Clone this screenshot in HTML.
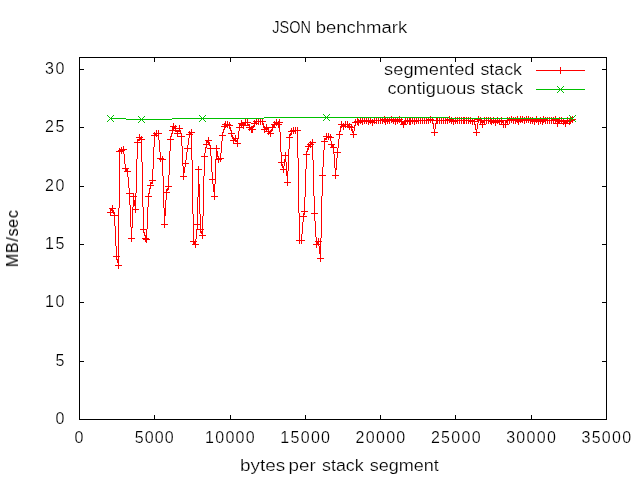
<!DOCTYPE html><html><head><meta charset="utf-8"><style>html,body{margin:0;padding:0;background:#fff;}svg{display:block}g.tg{will-change:transform}text{font-family:"Liberation Sans",sans-serif;fill:#000;stroke:#fff;stroke-width:0.2px}.yl text{stroke-width:0}</style></head><body>
<svg width="640" height="480" viewBox="0 0 640 480">
<rect width="640" height="480" fill="#fff"/>
<path d="M79.5,57.5H606.5V419.5H79.5ZM80,419.5h4M606,419.5h-4M80,361.5h4M606,361.5h-4M80,302.5h4M606,302.5h-4M80,244.5h4M606,244.5h-4M80,186.5h4M606,186.5h-4M80,127.5h4M606,127.5h-4M80,69.5h4M606,69.5h-4M79.5,419v-4M79.5,58v4M154.5,419v-4M154.5,58v4M230.5,419v-4M230.5,58v4M305.5,419v-4M305.5,58v4M380.5,419v-4M380.5,58v4M455.5,419v-4M455.5,58v4M531.5,419v-4M531.5,58v4M606.5,419v-4M606.5,58v4" stroke="#000" stroke-width="1" fill="none" shape-rendering="crispEdges"/>
<g class="tg">
<text class="t" x="64.50" y="424.00" font-size="16" text-anchor="end" textLength="9.80" lengthAdjust="spacing">0</text>
<text class="t" x="64.50" y="365.67" font-size="16" text-anchor="end" textLength="9.80" lengthAdjust="spacing">5</text>
<text class="t" x="64.50" y="307.33" font-size="16" text-anchor="end" textLength="19.59" lengthAdjust="spacing">10</text>
<text class="t" x="64.50" y="249.00" font-size="16" text-anchor="end" textLength="19.59" lengthAdjust="spacing">15</text>
<text class="t" x="64.50" y="190.67" font-size="16" text-anchor="end" textLength="19.59" lengthAdjust="spacing">20</text>
<text class="t" x="64.50" y="132.33" font-size="16" text-anchor="end" textLength="19.59" lengthAdjust="spacing">25</text>
<text class="t" x="64.50" y="74.00" font-size="16" text-anchor="end" textLength="19.59" lengthAdjust="spacing">30</text>
<text class="t" x="79.00" y="443.00" font-size="16" text-anchor="middle" textLength="9.74" lengthAdjust="spacing">0</text>
<text class="t" x="154.29" y="443.00" font-size="16" text-anchor="middle" textLength="38.97" lengthAdjust="spacing">5000</text>
<text class="t" x="229.87" y="443.00" font-size="16" text-anchor="middle" textLength="49.65" lengthAdjust="spacing">10000</text>
<text class="t" x="305.16" y="443.00" font-size="16" text-anchor="middle" textLength="49.65" lengthAdjust="spacing">15000</text>
<text class="t" x="380.44" y="443.00" font-size="16" text-anchor="middle" textLength="49.65" lengthAdjust="spacing">20000</text>
<text class="t" x="455.73" y="443.00" font-size="16" text-anchor="middle" textLength="49.65" lengthAdjust="spacing">25000</text>
<text class="t" x="531.01" y="443.00" font-size="16" text-anchor="middle" textLength="49.65" lengthAdjust="spacing">30000</text>
<text class="t" x="606.30" y="443.00" font-size="16" text-anchor="middle" textLength="49.65" lengthAdjust="spacing">35000</text>
<text x="272.25" y="33" font-size="16" textLength="38.67" lengthAdjust="spacingAndGlyphs">JSON</text>
<text x="315.70" y="33" font-size="16" textLength="91.56" lengthAdjust="spacingAndGlyphs">benchmark</text>
<text x="240.10" y="471" font-size="16" textLength="45.25" lengthAdjust="spacingAndGlyphs">bytes</text>
<text x="288.60" y="471" font-size="16" textLength="27.12" lengthAdjust="spacingAndGlyphs">per</text>
<text x="322.00" y="471" font-size="16" textLength="41.74" lengthAdjust="spacingAndGlyphs">stack</text>
<text x="369.70" y="471" font-size="16" textLength="69.18" lengthAdjust="spacingAndGlyphs">segment</text>
<text x="384.10" y="75" font-size="16" textLength="90.37" lengthAdjust="spacingAndGlyphs">segmented</text>
<text x="480.40" y="75" font-size="16" textLength="41.54" lengthAdjust="spacingAndGlyphs">stack</text>
<text x="387.40" y="94" font-size="16" textLength="87.99" lengthAdjust="spacingAndGlyphs">contiguous</text>
<text x="480.40" y="94" font-size="16" textLength="42.74" lengthAdjust="spacingAndGlyphs">stack</text>
<g transform="translate(18,238.6) rotate(-90)" class="yl"><text class="t" x="0.00" y="0.00" font-size="16" text-anchor="middle" textLength="56.92" lengthAdjust="spacing">MB/sec</text></g>
</g>
<path d="M384,116.5h1M391,116.5h1M399,116.5h1M430,116.5h1M449,116.5h1M478,116.5h1M511,116.5h1M517,116.5h1M520,116.5h1M522,116.5h1M526,116.5h1M528,116.5h1M536,116.5h1M543,116.5h1M555,116.5h1M572,116.5h1M360,117.5h1M364,117.5h1M366,117.5h1M370,117.5h1M374,117.5h1M376,117.5h1M378,117.5h1M380,117.5h1M382,117.5h1M384,117.5h1M387,117.5h1M389,117.5h1M391,117.5h1M393,117.5h1M397,117.5h1M399,117.5h1M407,117.5h1M412,117.5h1M416,117.5h1M418,117.5h1M420,117.5h1M422,117.5h1M424,117.5h1M426,117.5h1M428,117.5h1M430,117.5h1M432,117.5h1M436,117.5h2M439,117.5h1M441,117.5h1M443,117.5h1M445,117.5h1M447,117.5h1M449,117.5h1M451,117.5h1M455,117.5h1M457,117.5h1M459,117.5h1M461,117.5h1M463,117.5h2M466,117.5h1M468,117.5h1M470,117.5h1M478,117.5h1M480,117.5h1M484,117.5h1M486,117.5h1M488,117.5h1M490,117.5h1M493,117.5h1M497,117.5h1M501,117.5h1M507,117.5h1M509,117.5h1M511,117.5h1M513,117.5h1M515,117.5h1M517,117.5h1M520,117.5h1M522,117.5h1M524,117.5h1M526,117.5h1M528,117.5h1M530,117.5h1M532,117.5h1M536,117.5h1M540,117.5h1M543,117.5h1M545,117.5h1M547,117.5h1M549,117.5h1M551,117.5h1M553,117.5h1M555,117.5h1M559,117.5h1M561,117.5h1M567,117.5h1M570,117.5h1M572,117.5h1M256,118.5h1M258,118.5h1M260,118.5h1M262,118.5h1M357,118.5h1M360,118.5h1M362,118.5h1M364,118.5h1M366,118.5h1M368,118.5h1M370,118.5h1M374,118.5h1M376,118.5h1M378,118.5h1M380,118.5h1M382,118.5h1M384,118.5h2M387,118.5h1M389,118.5h1M391,118.5h1M393,118.5h1M395,118.5h1M397,118.5h1M399,118.5h1M401,118.5h1M405,118.5h1M407,118.5h1M409,118.5h2M412,118.5h1M414,118.5h1M416,118.5h1M418,118.5h1M420,118.5h1M422,118.5h1M424,118.5h1M426,118.5h1M428,118.5h1M430,118.5h1M432,118.5h1M436,118.5h2M439,118.5h1M441,118.5h1M443,118.5h1M445,118.5h1M447,118.5h1M449,118.5h1M451,118.5h1M453,118.5h1M455,118.5h1M457,118.5h1M459,118.5h1M461,118.5h1M463,118.5h2M466,118.5h1M468,118.5h1M470,118.5h1M472,118.5h1M474,118.5h1M478,118.5h1M480,118.5h1M484,118.5h1M486,118.5h1M488,118.5h1M490,118.5h2M493,118.5h1M497,118.5h1M499,118.5h1M501,118.5h1M507,118.5h1M509,118.5h1M511,118.5h1M513,118.5h1M515,118.5h1M517,118.5h2M520,118.5h1M522,118.5h1M524,118.5h1M526,118.5h1M528,118.5h1M530,118.5h1M532,118.5h1M534,118.5h1M536,118.5h1M538,118.5h1M540,118.5h1M542,118.5h2M545,118.5h1M547,118.5h1M549,118.5h1M551,118.5h1M553,118.5h1M555,118.5h1M559,118.5h1M561,118.5h1M563,118.5h1M567,118.5h1M569,118.5h2M572,118.5h1M245,119.5h1M247,119.5h1M256,119.5h1M258,119.5h1M260,119.5h1M262,119.5h1M276,119.5h1M279,119.5h1M355,119.5h1M357,119.5h2M360,119.5h1M362,119.5h1M364,119.5h1M366,119.5h1M368,119.5h1M370,119.5h1M372,119.5h1M374,119.5h1M376,119.5h1M378,119.5h1M380,119.5h23M405,119.5h1M407,119.5h1M409,119.5h2M412,119.5h1M414,119.5h1M416,119.5h1M418,119.5h1M420,119.5h1M422,119.5h1M424,119.5h1M426,119.5h8M436,119.5h2M439,119.5h1M441,119.5h1M443,119.5h1M445,119.5h9M455,119.5h1M457,119.5h1M459,119.5h1M461,119.5h1M463,119.5h2M466,119.5h1M468,119.5h1M470,119.5h1M472,119.5h1M474,119.5h8M484,119.5h1M486,119.5h1M488,119.5h1M490,119.5h2M493,119.5h1M495,119.5h1M497,119.5h1M499,119.5h1M501,119.5h1M507,119.5h41M549,119.5h1M551,119.5h9M561,119.5h1M563,119.5h1M567,119.5h1M569,119.5h7M241,120.5h1M245,120.5h1M247,120.5h1M254,120.5h1M256,120.5h1M258,120.5h1M260,120.5h1M262,120.5h1M276,120.5h1M279,120.5h1M355,120.5h1M357,120.5h45M404,120.5h71M477,120.5h97M225,121.5h1M227,121.5h1M241,121.5h1M245,121.5h1M247,121.5h1M253,121.5h13M274,121.5h1M276,121.5h1M278,121.5h2M341,121.5h1M345,121.5h1M347,121.5h1M354,121.5h21M376,121.5h1M378,121.5h1M380,121.5h1M382,121.5h8M391,121.5h28M420,121.5h1M422,121.5h1M424,121.5h1M426,121.5h1M428,121.5h1M430,121.5h1M432,121.5h1M436,121.5h2M439,121.5h1M441,121.5h1M443,121.5h1M445,121.5h1M447,121.5h1M449,121.5h9M459,121.5h1M461,121.5h1M463,121.5h2M466,121.5h1M468,121.5h11M480,121.5h5M486,121.5h1M488,121.5h16M505,121.5h3M509,121.5h1M511,121.5h1M513,121.5h1M515,121.5h8M524,121.5h1M526,121.5h1M528,121.5h1M530,121.5h16M547,121.5h1M549,121.5h1M551,121.5h1M553,121.5h1M555,121.5h18M225,122.5h1M227,122.5h1M229,122.5h1M241,122.5h10M254,122.5h3M258,122.5h1M260,122.5h1M262,122.5h1M273,122.5h10M341,122.5h1M345,122.5h1M347,122.5h1M352,122.5h11M364,122.5h1M366,122.5h1M368,122.5h9M378,122.5h1M380,122.5h1M382,122.5h1M384,122.5h2M387,122.5h1M389,122.5h1M391,122.5h1M393,122.5h1M395,122.5h1M397,122.5h1M399,122.5h1M401,122.5h5M407,122.5h1M409,122.5h2M412,122.5h1M414,122.5h1M416,122.5h1M418,122.5h1M420,122.5h1M422,122.5h1M424,122.5h1M426,122.5h1M428,122.5h1M430,122.5h1M432,122.5h1M436,122.5h2M439,122.5h1M441,122.5h1M443,122.5h1M445,122.5h1M447,122.5h1M449,122.5h1M451,122.5h1M453,122.5h1M455,122.5h1M457,122.5h1M459,122.5h1M461,122.5h1M463,122.5h2M466,122.5h1M468,122.5h1M470,122.5h1M472,122.5h1M474,122.5h1M478,122.5h1M480,122.5h5M486,122.5h1M488,122.5h1M490,122.5h10M501,122.5h3M505,122.5h3M509,122.5h1M511,122.5h1M513,122.5h1M515,122.5h1M517,122.5h2M520,122.5h1M522,122.5h1M524,122.5h1M526,122.5h1M528,122.5h1M530,122.5h1M532,122.5h1M534,122.5h1M536,122.5h1M538,122.5h1M540,122.5h1M542,122.5h2M545,122.5h1M547,122.5h1M549,122.5h1M551,122.5h1M553,122.5h1M555,122.5h1M557,122.5h3M561,122.5h1M563,122.5h5M569,122.5h2M572,122.5h1M173,123.5h1M224,123.5h2M227,123.5h1M229,123.5h1M238,123.5h8M247,123.5h1M251,123.5h8M260,123.5h1M262,123.5h2M274,123.5h6M341,123.5h1M343,123.5h1M345,123.5h1M347,123.5h1M349,123.5h1M355,123.5h1M357,123.5h2M360,123.5h1M362,123.5h1M364,123.5h1M366,123.5h1M368,123.5h1M370,123.5h1M372,123.5h1M374,123.5h1M376,123.5h1M378,123.5h1M380,123.5h1M382,123.5h1M385,123.5h1M387,123.5h1M389,123.5h1M393,123.5h1M395,123.5h1M397,123.5h1M401,123.5h5M407,123.5h1M409,123.5h2M412,123.5h1M414,123.5h1M416,123.5h1M418,123.5h1M420,123.5h1M422,123.5h1M424,123.5h1M426,123.5h1M428,123.5h1M432,123.5h2M435,123.5h3M439,123.5h1M441,123.5h1M443,123.5h1M445,123.5h1M447,123.5h1M451,123.5h1M453,123.5h1M455,123.5h1M457,123.5h1M459,123.5h1M461,123.5h1M463,123.5h2M466,123.5h1M468,123.5h1M470,123.5h1M472,123.5h1M474,123.5h1M477,123.5h1M480,123.5h1M482,123.5h1M484,123.5h1M486,123.5h1M488,123.5h1M490,123.5h2M493,123.5h1M495,123.5h1M497,123.5h1M499,123.5h1M501,123.5h1M503,123.5h1M505,123.5h1M507,123.5h1M509,123.5h1M513,123.5h1M515,123.5h1M518,123.5h1M524,123.5h1M530,123.5h1M532,123.5h1M534,123.5h1M538,123.5h1M540,123.5h1M542,123.5h1M545,123.5h1M547,123.5h1M549,123.5h1M551,123.5h1M553,123.5h18M173,124.5h1M222,124.5h9M239,124.5h7M247,124.5h3M254,124.5h1M256,124.5h1M258,124.5h1M260,124.5h1M262,124.5h2M266,124.5h1M271,124.5h11M338,124.5h14M355,124.5h1M357,124.5h2M362,124.5h1M368,124.5h1M372,124.5h1M385,124.5h1M395,124.5h1M400,124.5h7M409,124.5h2M414,124.5h1M433,124.5h1M435,124.5h1M453,124.5h1M472,124.5h1M474,124.5h2M477,124.5h1M479,124.5h7M491,124.5h1M495,124.5h1M499,124.5h10M518,124.5h1M534,124.5h1M538,124.5h1M542,124.5h1M557,124.5h1M563,124.5h1M565,124.5h1M569,124.5h1M173,125.5h1M175,125.5h1M179,125.5h1M224,125.5h9M239,125.5h11M253,125.5h2M263,125.5h1M266,125.5h1M272,125.5h3M276,125.5h1M278,125.5h2M341,125.5h5M347,125.5h3M351,125.5h1M354,125.5h2M358,125.5h1M372,125.5h1M403,125.5h1M433,125.5h1M435,125.5h1M475,125.5h1M477,125.5h1M482,125.5h1M495,125.5h1M503,125.5h1M505,125.5h1M557,125.5h1M565,125.5h1M170,126.5h7M179,126.5h1M221,126.5h7M229,126.5h1M239,126.5h1M241,126.5h1M243,126.5h1M249,126.5h1M251,126.5h4M263,126.5h2M266,126.5h1M272,126.5h3M278,126.5h2M340,126.5h13M354,126.5h1M403,126.5h1M433,126.5h1M435,126.5h1M475,126.5h1M477,126.5h1M482,126.5h1M503,126.5h1M505,126.5h1M557,126.5h1M565,126.5h1M172,127.5h4M179,127.5h1M224,127.5h2M227,127.5h1M229,127.5h2M236,127.5h8M246,127.5h8M263,127.5h13M278,127.5h2M293,127.5h1M295,127.5h1M297,127.5h1M340,127.5h2M343,127.5h1M345,127.5h1M347,127.5h8M403,127.5h1M433,127.5h1M435,127.5h1M475,127.5h1M477,127.5h1M482,127.5h1M503,127.5h1M505,127.5h1M172,128.5h11M224,128.5h1M229,128.5h2M239,128.5h1M243,128.5h1M249,128.5h4M264,128.5h5M272,128.5h1M279,128.5h1M291,128.5h1M293,128.5h1M295,128.5h1M297,128.5h1M340,128.5h1M343,128.5h1M349,128.5h1M351,128.5h1M354,128.5h1M433,128.5h1M435,128.5h1M475,128.5h1M477,128.5h1M172,129.5h2M175,129.5h1M179,129.5h1M191,129.5h1M223,129.5h2M230,129.5h1M239,129.5h1M248,129.5h8M261,129.5h8M271,129.5h2M279,129.5h1M291,129.5h1M293,129.5h1M295,129.5h1M297,129.5h1M340,129.5h1M343,129.5h1M349,129.5h1M351,129.5h2M354,129.5h1M434,129.5h1M475,129.5h2M156,130.5h1M158,130.5h1M169,130.5h12M191,130.5h1M223,130.5h1M230,130.5h2M239,130.5h1M249,130.5h1M251,130.5h2M264,130.5h1M266,130.5h1M268,130.5h1M270,130.5h3M279,130.5h1M290,130.5h11M340,130.5h1M351,130.5h2M354,130.5h1M434,130.5h1M476,130.5h1M156,131.5h1M158,131.5h1M172,131.5h1M175,131.5h6M189,131.5h1M191,131.5h1M223,131.5h1M231,131.5h1M238,131.5h1M251,131.5h2M264,131.5h8M279,131.5h1M288,131.5h8M297,131.5h1M339,131.5h2M352,131.5h2M434,131.5h1M476,131.5h1M154,132.5h1M156,132.5h1M158,132.5h1M172,132.5h1M177,132.5h1M180,132.5h1M188,132.5h7M222,132.5h2M231,132.5h1M238,132.5h1M251,132.5h2M264,132.5h1M268,132.5h3M280,132.5h1M291,132.5h1M293,132.5h1M295,132.5h1M297,132.5h1M339,132.5h1M352,132.5h2M431,132.5h7M473,132.5h7M153,133.5h9M171,133.5h2M174,133.5h8M189,133.5h3M222,133.5h1M228,133.5h7M238,133.5h1M267,133.5h7M280,133.5h1M290,133.5h2M293,133.5h1M295,133.5h1M297,133.5h1M326,133.5h1M328,133.5h1M339,133.5h1M353,133.5h1M434,133.5h1M476,133.5h1M139,134.5h1M154,134.5h3M158,134.5h1M171,134.5h1M177,134.5h1M181,134.5h1M186,134.5h7M222,134.5h1M231,134.5h1M238,134.5h1M268,134.5h1M270,134.5h1M280,134.5h1M289,134.5h3M297,134.5h1M326,134.5h1M328,134.5h1M330,134.5h1M336,134.5h7M350,134.5h7M434,134.5h1M476,134.5h1M139,135.5h1M151,135.5h8M171,135.5h1M177,135.5h1M181,135.5h1M189,135.5h1M191,135.5h1M219,135.5h7M231,135.5h2M235,135.5h1M238,135.5h1M270,135.5h1M280,135.5h1M289,135.5h2M297,135.5h1M326,135.5h1M328,135.5h1M330,135.5h1M339,135.5h1M353,135.5h1M434,135.5h1M476,135.5h1M139,136.5h1M141,136.5h1M154,136.5h1M156,136.5h1M158,136.5h1M170,136.5h2M177,136.5h8M189,136.5h1M191,136.5h1M222,136.5h1M231,136.5h2M235,136.5h1M238,136.5h1M270,136.5h1M280,136.5h1M289,136.5h1M297,136.5h1M323,136.5h9M339,136.5h1M353,136.5h1M136,137.5h7M154,137.5h1M158,137.5h1M170,137.5h1M181,137.5h1M189,137.5h1M191,137.5h1M208,137.5h1M222,137.5h1M232,137.5h2M235,137.5h1M238,137.5h1M280,137.5h1M286,137.5h7M297,137.5h1M326,137.5h8M339,137.5h1M353,137.5h1M139,138.5h3M154,138.5h1M158,138.5h1M170,138.5h1M181,138.5h1M188,138.5h1M191,138.5h1M208,138.5h1M222,138.5h1M232,138.5h7M280,138.5h1M289,138.5h1M297,138.5h1M324,138.5h3M328,138.5h1M330,138.5h1M339,138.5h1M137,139.5h8M154,139.5h1M158,139.5h1M167,139.5h7M181,139.5h1M188,139.5h1M191,139.5h1M208,139.5h1M222,139.5h1M233,139.5h3M237,139.5h1M280,139.5h1M289,139.5h1M297,139.5h1M312,139.5h1M324,139.5h3M328,139.5h1M330,139.5h1M338,139.5h1M137,140.5h3M141,140.5h1M154,140.5h1M159,140.5h1M170,140.5h1M181,140.5h1M188,140.5h1M191,140.5h1M205,140.5h7M222,140.5h1M230,140.5h8M280,140.5h1M289,140.5h1M297,140.5h1M312,140.5h1M324,140.5h1M330,140.5h1M338,140.5h1M137,141.5h1M141,141.5h1M154,141.5h1M159,141.5h1M170,141.5h1M181,141.5h1M188,141.5h1M191,141.5h1M206,141.5h3M221,141.5h1M233,141.5h1M235,141.5h3M280,141.5h1M289,141.5h1M297,141.5h1M310,141.5h1M312,141.5h1M321,141.5h7M331,141.5h1M338,141.5h1M134,142.5h8M154,142.5h1M159,142.5h1M170,142.5h1M181,142.5h1M188,142.5h1M191,142.5h1M206,142.5h4M221,142.5h1M233,142.5h1M237,142.5h1M280,142.5h1M289,142.5h1M297,142.5h1M309,142.5h7M324,142.5h1M331,142.5h1M338,142.5h1M137,143.5h1M141,143.5h1M154,143.5h1M159,143.5h1M170,143.5h1M181,143.5h1M188,143.5h1M191,143.5h1M206,143.5h1M208,143.5h2M221,143.5h1M233,143.5h8M280,143.5h1M289,143.5h1M297,143.5h1M308,143.5h1M310,143.5h3M324,143.5h1M331,143.5h1M338,143.5h1M137,144.5h1M141,144.5h1M154,144.5h1M159,144.5h1M170,144.5h1M181,144.5h1M188,144.5h1M191,144.5h1M203,144.5h7M221,144.5h1M237,144.5h1M280,144.5h1M289,144.5h1M297,144.5h1M307,144.5h7M324,144.5h1M328,144.5h7M338,144.5h1M137,145.5h1M141,145.5h1M154,145.5h1M159,145.5h1M170,145.5h1M181,145.5h1M187,145.5h1M191,145.5h1M206,145.5h1M209,145.5h2M216,145.5h1M221,145.5h1M237,145.5h1M280,145.5h1M289,145.5h1M297,145.5h1M308,145.5h3M312,145.5h1M324,145.5h1M331,145.5h3M338,145.5h1M123,146.5h1M137,146.5h1M141,146.5h1M154,146.5h1M159,146.5h1M170,146.5h1M182,146.5h1M187,146.5h1M191,146.5h1M206,146.5h1M210,146.5h1M216,146.5h1M221,146.5h1M237,146.5h1M280,146.5h1M289,146.5h1M297,146.5h1M305,146.5h8M324,146.5h1M331,146.5h3M338,146.5h1M121,147.5h1M123,147.5h1M137,147.5h1M141,147.5h1M153,147.5h1M159,147.5h1M170,147.5h1M182,147.5h1M187,147.5h1M191,147.5h1M205,147.5h2M210,147.5h1M216,147.5h1M221,147.5h1M280,147.5h1M289,147.5h1M297,147.5h1M308,147.5h1M310,147.5h1M312,147.5h1M324,147.5h1M330,147.5h7M338,147.5h1M119,148.5h1M121,148.5h1M123,148.5h1M137,148.5h1M141,148.5h1M153,148.5h1M159,148.5h1M170,148.5h1M182,148.5h1M184,148.5h8M205,148.5h1M207,148.5h13M221,148.5h1M280,148.5h1M289,148.5h1M297,148.5h1M307,148.5h2M312,148.5h1M324,148.5h1M333,148.5h1M337,148.5h1M119,149.5h8M137,149.5h1M141,149.5h1M153,149.5h1M159,149.5h1M170,149.5h1M182,149.5h1M187,149.5h1M191,149.5h1M205,149.5h1M210,149.5h1M216,149.5h1M221,149.5h1M280,149.5h1M288,149.5h1M297,149.5h1M307,149.5h2M312,149.5h1M324,149.5h1M333,149.5h1M337,149.5h1M118,150.5h7M137,150.5h1M141,150.5h1M153,150.5h1M159,150.5h1M170,150.5h1M182,150.5h1M187,150.5h1M191,150.5h1M205,150.5h1M210,150.5h1M216,150.5h1M221,150.5h1M280,150.5h1M288,150.5h1M297,150.5h1M307,150.5h1M312,150.5h1M323,150.5h1M333,150.5h1M337,150.5h1M116,151.5h8M137,151.5h1M141,151.5h1M153,151.5h1M159,151.5h1M169,151.5h1M182,151.5h1M187,151.5h1M191,151.5h1M205,151.5h1M210,151.5h1M216,151.5h2M221,151.5h1M280,151.5h1M288,151.5h1M297,151.5h1M306,151.5h2M312,151.5h1M323,151.5h1M333,151.5h1M337,151.5h1M119,152.5h1M121,152.5h1M123,152.5h1M137,152.5h1M141,152.5h1M153,152.5h1M160,152.5h1M169,152.5h1M182,152.5h1M186,152.5h1M191,152.5h1M205,152.5h1M210,152.5h1M216,152.5h2M221,152.5h1M281,152.5h1M285,152.5h1M288,152.5h1M297,152.5h1M306,152.5h1M312,152.5h1M323,152.5h1M333,152.5h8M119,153.5h1M121,153.5h1M123,153.5h1M137,153.5h1M141,153.5h1M153,153.5h1M160,153.5h1M169,153.5h1M182,153.5h1M186,153.5h1M191,153.5h1M204,153.5h1M210,153.5h1M216,153.5h2M220,153.5h1M281,153.5h1M285,153.5h1M288,153.5h1M297,153.5h1M306,153.5h1M312,153.5h1M323,153.5h1M333,153.5h1M337,153.5h1M119,154.5h1M124,154.5h1M137,154.5h1M141,154.5h1M153,154.5h1M160,154.5h1M169,154.5h1M182,154.5h1M186,154.5h1M191,154.5h1M204,154.5h1M210,154.5h1M216,154.5h2M220,154.5h1M281,154.5h1M285,154.5h1M288,154.5h1M297,154.5h1M303,154.5h7M312,154.5h1M323,154.5h1M334,154.5h1M337,154.5h1M119,155.5h1M124,155.5h1M137,155.5h1M141,155.5h1M153,155.5h1M160,155.5h1M169,155.5h1M182,155.5h1M186,155.5h1M191,155.5h1M204,155.5h1M210,155.5h1M216,155.5h2M220,155.5h1M281,155.5h8M297,155.5h1M306,155.5h1M312,155.5h1M323,155.5h1M334,155.5h1M337,155.5h1M119,156.5h1M124,156.5h1M137,156.5h1M141,156.5h1M153,156.5h1M160,156.5h1M162,156.5h1M169,156.5h1M182,156.5h1M186,156.5h1M191,156.5h1M201,156.5h7M211,156.5h1M216,156.5h3M220,156.5h1M281,156.5h1M285,156.5h1M288,156.5h1M297,156.5h1M306,156.5h1M312,156.5h1M323,156.5h1M334,156.5h1M337,156.5h1M119,157.5h1M124,157.5h1M137,157.5h1M141,157.5h1M153,157.5h1M160,157.5h1M162,157.5h1M169,157.5h1M182,157.5h1M186,157.5h1M191,157.5h1M204,157.5h1M211,157.5h1M216,157.5h1M218,157.5h1M220,157.5h1M281,157.5h1M285,157.5h1M288,157.5h1M297,157.5h1M306,157.5h1M312,157.5h1M323,157.5h1M334,157.5h1M337,157.5h1M119,158.5h1M124,158.5h1M137,158.5h1M141,158.5h1M153,158.5h1M157,158.5h7M169,158.5h1M182,158.5h1M186,158.5h1M191,158.5h1M204,158.5h1M211,158.5h1M216,158.5h8M281,158.5h1M285,158.5h1M288,158.5h1M298,158.5h1M306,158.5h1M312,158.5h1M323,158.5h1M334,158.5h1M336,158.5h1M119,159.5h1M124,159.5h1M136,159.5h1M141,159.5h1M153,159.5h1M159,159.5h7M169,159.5h1M182,159.5h1M186,159.5h1M191,159.5h1M204,159.5h1M211,159.5h1M215,159.5h7M281,159.5h1M284,159.5h2M288,159.5h1M298,159.5h1M306,159.5h1M312,159.5h1M323,159.5h1M334,159.5h1M336,159.5h1M119,160.5h1M124,160.5h1M136,160.5h1M141,160.5h1M153,160.5h1M160,160.5h1M162,160.5h1M169,160.5h1M182,160.5h1M185,160.5h1M192,160.5h1M204,160.5h1M211,160.5h1M215,160.5h1M218,160.5h1M220,160.5h1M281,160.5h1M284,160.5h2M288,160.5h1M298,160.5h1M306,160.5h1M313,160.5h1M323,160.5h1M334,160.5h1M336,160.5h1M119,161.5h1M124,161.5h1M136,161.5h1M141,161.5h1M153,161.5h1M160,161.5h1M162,161.5h1M169,161.5h1M182,161.5h1M185,161.5h1M192,161.5h1M204,161.5h1M211,161.5h1M215,161.5h1M218,161.5h1M220,161.5h1M281,161.5h1M284,161.5h2M288,161.5h1M298,161.5h1M306,161.5h1M313,161.5h1M323,161.5h1M334,161.5h1M336,161.5h1M119,162.5h1M124,162.5h1M136,162.5h1M142,162.5h1M153,162.5h1M162,162.5h1M169,162.5h1M182,162.5h1M185,162.5h1M192,162.5h1M204,162.5h1M211,162.5h1M215,162.5h1M218,162.5h1M278,162.5h7M286,162.5h1M288,162.5h1M298,162.5h1M306,162.5h1M313,162.5h1M323,162.5h1M334,162.5h1M336,162.5h1M119,163.5h1M124,163.5h1M136,163.5h1M142,163.5h1M153,163.5h1M162,163.5h1M169,163.5h1M182,163.5h7M192,163.5h1M204,163.5h1M211,163.5h1M215,163.5h1M281,163.5h1M284,163.5h1M286,163.5h1M288,163.5h1M298,163.5h1M306,163.5h1M313,163.5h1M323,163.5h1M334,163.5h1M336,163.5h1M119,164.5h1M125,164.5h1M136,164.5h1M142,164.5h1M153,164.5h1M162,164.5h1M169,164.5h1M182,164.5h1M185,164.5h1M192,164.5h1M204,164.5h1M211,164.5h1M215,164.5h1M281,164.5h2M284,164.5h1M286,164.5h1M288,164.5h1M298,164.5h1M306,164.5h1M313,164.5h1M323,164.5h1M334,164.5h1M336,164.5h1M119,165.5h1M125,165.5h1M136,165.5h1M142,165.5h1M153,165.5h1M162,165.5h1M169,165.5h1M182,165.5h1M185,165.5h1M192,165.5h1M204,165.5h1M211,165.5h1M215,165.5h1M281,165.5h2M284,165.5h1M286,165.5h1M288,165.5h1M298,165.5h1M306,165.5h1M313,165.5h1M323,165.5h1M334,165.5h1M336,165.5h1M119,166.5h1M125,166.5h1M136,166.5h1M142,166.5h1M153,166.5h1M162,166.5h1M169,166.5h1M183,166.5h1M185,166.5h1M192,166.5h1M198,166.5h1M204,166.5h1M211,166.5h1M215,166.5h1M282,166.5h2M286,166.5h1M288,166.5h1M298,166.5h1M306,166.5h1M313,166.5h1M323,166.5h1M334,166.5h1M336,166.5h1M119,167.5h1M125,167.5h1M136,167.5h1M142,167.5h1M153,167.5h1M162,167.5h1M169,167.5h1M183,167.5h2M192,167.5h1M198,167.5h1M204,167.5h1M211,167.5h1M215,167.5h1M282,167.5h2M286,167.5h1M288,167.5h1M298,167.5h1M306,167.5h1M313,167.5h1M322,167.5h1M334,167.5h1M336,167.5h1M119,168.5h1M122,168.5h7M136,168.5h1M142,168.5h1M153,168.5h1M162,168.5h1M169,168.5h1M183,168.5h2M192,168.5h1M198,168.5h1M204,168.5h1M211,168.5h1M215,168.5h1M283,168.5h1M286,168.5h1M288,168.5h1M298,168.5h1M306,168.5h1M313,168.5h1M322,168.5h1M335,168.5h2M119,169.5h1M125,169.5h3M136,169.5h1M142,169.5h1M152,169.5h1M162,169.5h1M169,169.5h1M183,169.5h2M192,169.5h1M195,169.5h7M204,169.5h1M211,169.5h1M215,169.5h1M280,169.5h7M288,169.5h1M298,169.5h1M305,169.5h1M313,169.5h1M322,169.5h1M335,169.5h2M119,170.5h1M125,170.5h3M136,170.5h1M142,170.5h1M152,170.5h1M162,170.5h1M169,170.5h1M183,170.5h2M192,170.5h1M198,170.5h1M204,170.5h1M211,170.5h1M215,170.5h1M283,170.5h1M286,170.5h1M288,170.5h1M298,170.5h1M305,170.5h1M313,170.5h1M322,170.5h1M335,170.5h1M119,171.5h1M124,171.5h7M136,171.5h1M142,171.5h1M152,171.5h1M162,171.5h1M169,171.5h1M183,171.5h2M192,171.5h1M198,171.5h1M204,171.5h1M211,171.5h1M215,171.5h1M283,171.5h1M286,171.5h2M298,171.5h1M305,171.5h1M313,171.5h1M322,171.5h1M335,171.5h1M119,172.5h1M127,172.5h1M136,172.5h1M142,172.5h1M152,172.5h1M162,172.5h1M169,172.5h1M183,172.5h2M192,172.5h1M198,172.5h1M204,172.5h1M212,172.5h1M215,172.5h1M283,172.5h1M286,172.5h2M298,172.5h1M305,172.5h1M313,172.5h1M322,172.5h1M335,172.5h1M119,173.5h1M127,173.5h1M136,173.5h1M142,173.5h1M152,173.5h1M162,173.5h1M169,173.5h1M183,173.5h1M192,173.5h1M198,173.5h1M204,173.5h1M212,173.5h1M215,173.5h1M286,173.5h2M298,173.5h1M305,173.5h1M313,173.5h1M322,173.5h1M335,173.5h1M119,174.5h1M127,174.5h1M136,174.5h1M142,174.5h1M152,174.5h1M162,174.5h1M169,174.5h1M183,174.5h1M192,174.5h1M198,174.5h1M204,174.5h1M212,174.5h1M215,174.5h1M286,174.5h2M298,174.5h1M305,174.5h1M313,174.5h1M322,174.5h1M335,174.5h1M119,175.5h1M127,175.5h1M136,175.5h1M142,175.5h1M152,175.5h1M162,175.5h1M168,175.5h1M183,175.5h1M192,175.5h1M198,175.5h1M204,175.5h1M212,175.5h1M215,175.5h1M286,175.5h2M298,175.5h1M305,175.5h1M313,175.5h1M319,175.5h7M332,175.5h7M119,176.5h1M127,176.5h1M136,176.5h1M142,176.5h1M152,176.5h1M163,176.5h1M168,176.5h1M180,176.5h7M192,176.5h1M198,176.5h1M203,176.5h1M212,176.5h1M215,176.5h1M287,176.5h1M298,176.5h1M305,176.5h1M313,176.5h1M322,176.5h1M335,176.5h1M119,177.5h1M128,177.5h1M136,177.5h1M142,177.5h1M152,177.5h1M163,177.5h1M168,177.5h1M183,177.5h1M192,177.5h1M198,177.5h1M203,177.5h1M212,177.5h1M215,177.5h1M287,177.5h1M298,177.5h1M305,177.5h1M313,177.5h1M322,177.5h1M335,177.5h1M119,178.5h1M128,178.5h1M136,178.5h1M142,178.5h1M152,178.5h1M163,178.5h1M168,178.5h1M183,178.5h1M192,178.5h1M198,178.5h1M203,178.5h1M212,178.5h1M215,178.5h1M287,178.5h1M298,178.5h1M305,178.5h1M313,178.5h1M322,178.5h1M335,178.5h1M119,179.5h1M128,179.5h1M136,179.5h1M142,179.5h1M152,179.5h1M163,179.5h1M168,179.5h1M183,179.5h1M192,179.5h1M198,179.5h1M203,179.5h1M209,179.5h7M287,179.5h1M298,179.5h1M305,179.5h1M313,179.5h1M322,179.5h1M119,180.5h1M128,180.5h1M136,180.5h1M142,180.5h1M149,180.5h7M163,180.5h1M168,180.5h1M192,180.5h1M198,180.5h1M203,180.5h1M212,180.5h1M215,180.5h1M287,180.5h1M298,180.5h1M305,180.5h1M313,180.5h1M322,180.5h1M119,181.5h1M128,181.5h1M136,181.5h1M142,181.5h1M152,181.5h1M163,181.5h1M168,181.5h1M192,181.5h1M198,181.5h1M203,181.5h1M212,181.5h1M215,181.5h1M287,181.5h1M298,181.5h1M305,181.5h1M313,181.5h1M322,181.5h1M119,182.5h1M128,182.5h1M136,182.5h1M142,182.5h1M150,182.5h3M163,182.5h1M168,182.5h1M192,182.5h1M198,182.5h1M203,182.5h1M212,182.5h1M215,182.5h1M284,182.5h7M298,182.5h1M305,182.5h1M313,182.5h1M322,182.5h1M119,183.5h1M128,183.5h1M136,183.5h1M142,183.5h1M150,183.5h3M163,183.5h1M168,183.5h1M192,183.5h1M198,183.5h1M203,183.5h1M212,183.5h1M215,183.5h1M287,183.5h1M298,183.5h1M305,183.5h1M313,183.5h1M322,183.5h1M119,184.5h1M128,184.5h1M136,184.5h1M142,184.5h1M150,184.5h1M163,184.5h1M168,184.5h1M192,184.5h1M198,184.5h2M203,184.5h1M213,184.5h2M287,184.5h1M298,184.5h1M305,184.5h1M313,184.5h1M322,184.5h1M119,185.5h1M128,185.5h1M136,185.5h1M142,185.5h1M147,185.5h7M163,185.5h1M168,185.5h1M192,185.5h1M198,185.5h2M203,185.5h1M213,185.5h2M287,185.5h1M298,185.5h1M305,185.5h1M313,185.5h1M322,185.5h1M119,186.5h1M128,186.5h1M136,186.5h1M142,186.5h1M150,186.5h1M163,186.5h1M165,186.5h7M192,186.5h1M198,186.5h2M203,186.5h1M213,186.5h2M298,186.5h1M305,186.5h1M313,186.5h1M322,186.5h1M119,187.5h1M128,187.5h1M136,187.5h1M142,187.5h1M150,187.5h1M163,187.5h1M168,187.5h1M192,187.5h1M198,187.5h2M203,187.5h1M213,187.5h2M298,187.5h1M305,187.5h1M313,187.5h1M322,187.5h1M119,188.5h1M129,188.5h1M136,188.5h1M142,188.5h1M149,188.5h2M163,188.5h1M167,188.5h2M192,188.5h1M198,188.5h2M203,188.5h1M213,188.5h2M298,188.5h1M305,188.5h1M313,188.5h1M322,188.5h1M119,189.5h1M129,189.5h1M136,189.5h1M142,189.5h1M149,189.5h1M163,189.5h1M166,189.5h3M192,189.5h1M198,189.5h2M203,189.5h1M213,189.5h2M298,189.5h1M305,189.5h1M313,189.5h1M322,189.5h1M119,190.5h1M129,190.5h1M136,190.5h1M142,190.5h1M149,190.5h1M163,190.5h1M166,190.5h2M192,190.5h1M198,190.5h2M203,190.5h1M213,190.5h2M298,190.5h1M305,190.5h1M313,190.5h1M322,190.5h1M119,191.5h1M129,191.5h1M136,191.5h1M142,191.5h1M149,191.5h1M163,191.5h1M166,191.5h1M192,191.5h1M198,191.5h2M203,191.5h1M213,191.5h2M298,191.5h1M305,191.5h1M313,191.5h1M322,191.5h1M119,192.5h1M129,192.5h1M136,192.5h1M142,192.5h1M149,192.5h1M163,192.5h7M192,192.5h1M198,192.5h2M203,192.5h1M214,192.5h1M298,192.5h1M305,192.5h1M313,192.5h1M322,192.5h1M119,193.5h1M126,193.5h8M135,193.5h1M142,193.5h1M148,193.5h2M163,193.5h1M166,193.5h1M192,193.5h1M198,193.5h2M203,193.5h1M214,193.5h1M298,193.5h1M305,193.5h1M313,193.5h1M322,193.5h1M119,194.5h1M129,194.5h1M133,194.5h1M135,194.5h1M142,194.5h1M148,194.5h1M163,194.5h1M166,194.5h1M192,194.5h1M198,194.5h2M203,194.5h1M214,194.5h1M298,194.5h1M305,194.5h1M313,194.5h1M322,194.5h1M119,195.5h1M129,195.5h1M133,195.5h1M135,195.5h1M142,195.5h1M148,195.5h1M163,195.5h1M166,195.5h1M192,195.5h1M198,195.5h2M203,195.5h1M214,195.5h1M298,195.5h1M305,195.5h1M313,195.5h1M322,195.5h1M119,196.5h1M129,196.5h8M142,196.5h1M145,196.5h7M163,196.5h1M166,196.5h1M192,196.5h1M198,196.5h2M203,196.5h1M211,196.5h7M298,196.5h1M305,196.5h1M314,196.5h1M321,196.5h1M119,197.5h1M129,197.5h1M133,197.5h1M135,197.5h1M142,197.5h1M148,197.5h1M163,197.5h1M166,197.5h1M192,197.5h1M197,197.5h1M199,197.5h1M203,197.5h1M214,197.5h1M298,197.5h1M304,197.5h1M314,197.5h1M321,197.5h1M119,198.5h1M129,198.5h1M133,198.5h1M135,198.5h1M142,198.5h1M148,198.5h1M163,198.5h1M166,198.5h1M192,198.5h1M197,198.5h1M199,198.5h1M203,198.5h1M214,198.5h1M298,198.5h1M304,198.5h1M314,198.5h1M321,198.5h1M119,199.5h1M129,199.5h1M133,199.5h1M135,199.5h1M142,199.5h1M148,199.5h1M163,199.5h1M166,199.5h1M192,199.5h1M197,199.5h1M199,199.5h1M203,199.5h1M214,199.5h1M298,199.5h1M304,199.5h1M314,199.5h1M321,199.5h1M119,200.5h1M129,200.5h1M133,200.5h3M142,200.5h1M148,200.5h1M163,200.5h1M165,200.5h1M192,200.5h1M197,200.5h1M199,200.5h1M203,200.5h1M298,200.5h1M304,200.5h1M314,200.5h1M321,200.5h1M119,201.5h1M129,201.5h1M133,201.5h3M142,201.5h1M148,201.5h1M163,201.5h1M165,201.5h1M192,201.5h1M197,201.5h1M199,201.5h1M203,201.5h1M298,201.5h1M304,201.5h1M314,201.5h1M321,201.5h1M119,202.5h1M129,202.5h1M133,202.5h3M142,202.5h1M148,202.5h1M163,202.5h1M165,202.5h1M192,202.5h1M197,202.5h1M199,202.5h1M203,202.5h1M298,202.5h1M304,202.5h1M314,202.5h1M321,202.5h1M119,203.5h1M129,203.5h1M133,203.5h3M142,203.5h1M148,203.5h1M163,203.5h1M165,203.5h1M192,203.5h1M197,203.5h1M199,203.5h1M203,203.5h1M298,203.5h1M304,203.5h1M314,203.5h1M321,203.5h1M119,204.5h1M129,204.5h1M133,204.5h3M142,204.5h1M148,204.5h1M163,204.5h1M165,204.5h1M192,204.5h1M197,204.5h1M199,204.5h1M203,204.5h1M298,204.5h1M304,204.5h1M314,204.5h1M321,204.5h1M112,205.5h1M119,205.5h1M130,205.5h1M133,205.5h3M142,205.5h1M148,205.5h1M163,205.5h1M165,205.5h1M192,205.5h1M197,205.5h1M199,205.5h1M203,205.5h1M298,205.5h1M304,205.5h1M314,205.5h1M321,205.5h1M112,206.5h1M119,206.5h1M130,206.5h1M133,206.5h1M135,206.5h1M142,206.5h1M148,206.5h1M163,206.5h1M165,206.5h1M192,206.5h1M197,206.5h1M199,206.5h1M203,206.5h1M298,206.5h1M304,206.5h1M314,206.5h1M321,206.5h1M112,207.5h1M119,207.5h1M130,207.5h1M132,207.5h1M135,207.5h1M143,207.5h1M147,207.5h1M163,207.5h1M165,207.5h1M192,207.5h1M197,207.5h1M199,207.5h1M203,207.5h1M298,207.5h1M304,207.5h1M314,207.5h1M321,207.5h1M109,208.5h7M118,208.5h1M130,208.5h1M132,208.5h1M135,208.5h1M143,208.5h1M147,208.5h1M164,208.5h2M192,208.5h1M197,208.5h1M199,208.5h1M203,208.5h1M298,208.5h1M304,208.5h1M314,208.5h1M321,208.5h1M110,209.5h3M118,209.5h1M130,209.5h1M132,209.5h7M143,209.5h1M147,209.5h1M164,209.5h2M192,209.5h1M197,209.5h1M199,209.5h1M203,209.5h1M298,209.5h1M304,209.5h1M314,209.5h1M321,209.5h1M110,210.5h4M118,210.5h1M130,210.5h1M132,210.5h1M135,210.5h1M143,210.5h1M147,210.5h1M164,210.5h2M192,210.5h1M197,210.5h1M199,210.5h1M203,210.5h1M298,210.5h1M304,210.5h1M314,210.5h1M321,210.5h1M110,211.5h1M112,211.5h2M118,211.5h1M130,211.5h1M132,211.5h1M135,211.5h1M143,211.5h1M147,211.5h1M164,211.5h2M192,211.5h1M197,211.5h1M199,211.5h1M203,211.5h1M298,211.5h1M301,211.5h7M314,211.5h1M321,211.5h1M107,212.5h8M118,212.5h1M130,212.5h1M132,212.5h1M135,212.5h1M143,212.5h1M147,212.5h1M164,212.5h2M192,212.5h1M197,212.5h1M199,212.5h1M203,212.5h1M298,212.5h1M304,212.5h1M314,212.5h1M321,212.5h1M110,213.5h1M113,213.5h2M118,213.5h1M130,213.5h1M132,213.5h1M143,213.5h1M147,213.5h1M164,213.5h2M192,213.5h1M197,213.5h1M199,213.5h1M203,213.5h1M299,213.5h1M303,213.5h2M311,213.5h7M321,213.5h1M110,214.5h1M114,214.5h1M118,214.5h1M130,214.5h1M132,214.5h1M143,214.5h1M147,214.5h1M164,214.5h2M193,214.5h1M197,214.5h1M200,214.5h1M203,214.5h1M299,214.5h1M303,214.5h2M314,214.5h1M321,214.5h1M110,215.5h9M130,215.5h1M132,215.5h1M143,215.5h1M147,215.5h1M164,215.5h2M193,215.5h1M197,215.5h1M200,215.5h1M203,215.5h1M299,215.5h1M303,215.5h1M314,215.5h1M321,215.5h1M114,216.5h1M118,216.5h1M130,216.5h1M132,216.5h1M143,216.5h1M147,216.5h1M164,216.5h1M193,216.5h1M197,216.5h1M200,216.5h1M202,216.5h1M299,216.5h8M314,216.5h1M321,216.5h1M114,217.5h1M118,217.5h1M130,217.5h1M132,217.5h1M143,217.5h1M147,217.5h1M164,217.5h1M193,217.5h1M197,217.5h1M200,217.5h1M202,217.5h1M299,217.5h1M303,217.5h1M314,217.5h1M321,217.5h1M114,218.5h1M118,218.5h1M130,218.5h1M132,218.5h1M143,218.5h1M147,218.5h1M164,218.5h1M193,218.5h1M197,218.5h1M200,218.5h1M202,218.5h1M299,218.5h1M303,218.5h1M314,218.5h1M321,218.5h1M114,219.5h1M118,219.5h1M130,219.5h1M132,219.5h1M143,219.5h1M147,219.5h1M164,219.5h1M193,219.5h1M197,219.5h1M200,219.5h1M202,219.5h1M299,219.5h1M303,219.5h1M314,219.5h1M321,219.5h1M114,220.5h1M118,220.5h1M130,220.5h1M132,220.5h1M143,220.5h1M147,220.5h1M164,220.5h1M193,220.5h1M197,220.5h1M200,220.5h1M202,220.5h1M299,220.5h1M303,220.5h1M314,220.5h1M321,220.5h1M114,221.5h1M118,221.5h1M130,221.5h1M132,221.5h1M143,221.5h1M147,221.5h1M164,221.5h1M193,221.5h1M197,221.5h1M200,221.5h1M202,221.5h1M299,221.5h1M303,221.5h1M315,221.5h1M321,221.5h1M114,222.5h1M118,222.5h1M130,222.5h1M132,222.5h1M143,222.5h1M147,222.5h1M164,222.5h1M193,222.5h1M197,222.5h1M200,222.5h1M202,222.5h1M299,222.5h1M302,222.5h1M315,222.5h1M321,222.5h1M114,223.5h1M118,223.5h1M130,223.5h1M132,223.5h1M143,223.5h1M147,223.5h1M164,223.5h1M193,223.5h1M197,223.5h1M200,223.5h1M202,223.5h1M299,223.5h1M302,223.5h1M315,223.5h1M321,223.5h1M114,224.5h1M118,224.5h1M130,224.5h1M132,224.5h1M143,224.5h1M147,224.5h1M161,224.5h7M193,224.5h8M202,224.5h1M299,224.5h1M302,224.5h1M315,224.5h1M321,224.5h1M114,225.5h1M118,225.5h1M130,225.5h1M132,225.5h1M143,225.5h1M147,225.5h1M164,225.5h1M193,225.5h1M197,225.5h1M200,225.5h1M202,225.5h1M299,225.5h1M302,225.5h1M315,225.5h1M321,225.5h1M115,226.5h1M118,226.5h1M130,226.5h1M132,226.5h1M143,226.5h1M147,226.5h1M164,226.5h1M193,226.5h1M197,226.5h1M200,226.5h1M202,226.5h1M299,226.5h1M302,226.5h1M315,226.5h1M321,226.5h1M115,227.5h1M118,227.5h1M131,227.5h2M143,227.5h1M147,227.5h1M164,227.5h1M193,227.5h1M197,227.5h1M200,227.5h1M202,227.5h1M299,227.5h1M302,227.5h1M315,227.5h1M321,227.5h1M115,228.5h1M118,228.5h1M131,228.5h1M143,228.5h1M147,228.5h1M193,228.5h1M197,228.5h1M200,228.5h1M202,228.5h1M299,228.5h1M302,228.5h1M315,228.5h1M321,228.5h1M115,229.5h1M118,229.5h1M131,229.5h1M140,229.5h7M193,229.5h1M196,229.5h8M299,229.5h1M302,229.5h1M315,229.5h1M321,229.5h1M115,230.5h1M118,230.5h1M131,230.5h1M143,230.5h1M146,230.5h1M193,230.5h1M196,230.5h1M200,230.5h1M202,230.5h1M299,230.5h1M302,230.5h1M315,230.5h1M321,230.5h1M115,231.5h1M118,231.5h1M131,231.5h1M143,231.5h1M146,231.5h1M193,231.5h1M196,231.5h1M200,231.5h3M299,231.5h1M302,231.5h1M315,231.5h1M321,231.5h1M115,232.5h1M118,232.5h1M131,232.5h1M143,232.5h2M146,232.5h1M193,232.5h1M196,232.5h1M200,232.5h3M299,232.5h1M302,232.5h1M315,232.5h1M321,232.5h1M115,233.5h1M118,233.5h1M131,233.5h1M144,233.5h1M146,233.5h1M193,233.5h1M196,233.5h1M201,233.5h2M299,233.5h1M302,233.5h1M315,233.5h1M321,233.5h1M115,234.5h1M118,234.5h1M131,234.5h1M144,234.5h1M146,234.5h1M193,234.5h1M196,234.5h1M202,234.5h1M299,234.5h1M301,234.5h1M315,234.5h1M321,234.5h1M115,235.5h1M118,235.5h1M131,235.5h1M144,235.5h3M193,235.5h1M196,235.5h1M199,235.5h7M299,235.5h1M301,235.5h1M315,235.5h1M321,235.5h1M115,236.5h1M118,236.5h1M131,236.5h1M145,236.5h2M193,236.5h1M196,236.5h1M202,236.5h1M299,236.5h1M301,236.5h1M315,236.5h1M321,236.5h1M115,237.5h1M118,237.5h1M131,237.5h1M145,237.5h2M193,237.5h1M196,237.5h1M202,237.5h1M299,237.5h1M301,237.5h1M316,237.5h1M321,237.5h1M115,238.5h1M118,238.5h1M128,238.5h7M142,238.5h7M193,238.5h1M196,238.5h1M202,238.5h1M299,238.5h1M301,238.5h1M316,238.5h1M318,238.5h1M320,238.5h1M115,239.5h1M118,239.5h1M131,239.5h1M143,239.5h7M193,239.5h1M195,239.5h1M299,239.5h1M301,239.5h1M316,239.5h1M318,239.5h1M320,239.5h1M115,240.5h1M118,240.5h1M131,240.5h1M145,240.5h2M193,240.5h1M195,240.5h1M296,240.5h9M316,240.5h1M318,240.5h1M320,240.5h1M115,241.5h1M118,241.5h1M131,241.5h1M145,241.5h2M190,241.5h7M299,241.5h1M301,241.5h1M315,241.5h7M115,242.5h1M118,242.5h1M146,242.5h1M193,242.5h3M299,242.5h1M301,242.5h1M316,242.5h3M320,242.5h1M115,243.5h1M118,243.5h1M193,243.5h3M299,243.5h1M301,243.5h1M316,243.5h3M320,243.5h1M115,244.5h1M118,244.5h1M192,244.5h7M313,244.5h8M115,245.5h1M118,245.5h1M195,245.5h1M316,245.5h1M318,245.5h1M320,245.5h1M116,246.5h1M118,246.5h1M195,246.5h1M316,246.5h1M319,246.5h2M116,247.5h1M118,247.5h1M195,247.5h1M316,247.5h1M319,247.5h2M116,248.5h1M118,248.5h1M319,248.5h2M116,249.5h1M118,249.5h1M319,249.5h2M116,250.5h1M118,250.5h1M319,250.5h2M116,251.5h1M118,251.5h1M319,251.5h2M116,252.5h1M118,252.5h1M319,252.5h2M116,253.5h1M118,253.5h1M319,253.5h2M116,254.5h1M118,254.5h1M320,254.5h1M116,255.5h1M118,255.5h1M320,255.5h1M113,256.5h7M320,256.5h1M116,257.5h1M118,257.5h1M320,257.5h1M116,258.5h1M118,258.5h1M317,258.5h7M116,259.5h3M320,259.5h1M117,260.5h2M320,260.5h1M117,261.5h2M320,261.5h1M117,262.5h2M118,263.5h1M118,264.5h1M115,265.5h7M118,266.5h1M118,267.5h1M118,268.5h1" stroke="#f00" stroke-width="1" fill="none" shape-rendering="crispEdges"/>
<path d="M323,114.5h1M329,114.5h1M107,115.5h1M113,115.5h1M199,115.5h1M205,115.5h1M324,115.5h1M328,115.5h1M569,115.5h1M575,115.5h1M108,116.5h1M112,116.5h1M138,116.5h1M144,116.5h1M200,116.5h1M204,116.5h1M325,116.5h1M327,116.5h1M570,116.5h1M574,116.5h1M109,117.5h1M111,117.5h1M139,117.5h1M143,117.5h1M201,117.5h1M203,117.5h1M264,117.5h185M571,117.5h1M573,117.5h1M110,118.5h16M140,118.5h1M142,118.5h1M172,118.5h92M325,118.5h1M327,118.5h1M449,118.5h124M109,119.5h1M111,119.5h1M126,119.5h46M201,119.5h1M203,119.5h1M324,119.5h1M328,119.5h1M571,119.5h1M573,119.5h1M108,120.5h1M112,120.5h1M140,120.5h1M142,120.5h1M200,120.5h1M204,120.5h1M323,120.5h1M329,120.5h1M570,120.5h1M574,120.5h1M107,121.5h1M113,121.5h1M139,121.5h1M143,121.5h1M199,121.5h1M205,121.5h1M569,121.5h1M575,121.5h1M138,122.5h1M144,122.5h1" stroke="#00c000" stroke-width="1" fill="none" shape-rendering="crispEdges"/>
<path d="M560,67.5h1M560,68.5h1M560,69.5h1M536,70.5h49M560,71.5h1M560,72.5h1M560,73.5h1" stroke="#f00" stroke-width="1" fill="none" shape-rendering="crispEdges"/>
<path d="M557,86.5h1M563,86.5h1M558,87.5h1M562,87.5h1M559,88.5h1M561,88.5h1M536,89.5h49M559,90.5h1M561,90.5h1M558,91.5h1M562,91.5h1M557,92.5h1M563,92.5h1" stroke="#00c000" stroke-width="1" fill="none" shape-rendering="crispEdges"/>
</svg></body></html>
